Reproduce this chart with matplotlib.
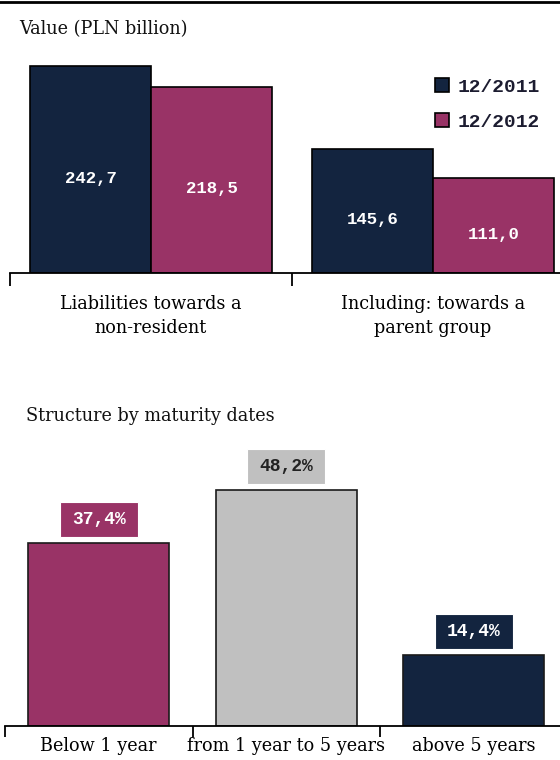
import numpy as np
import matplotlib
matplotlib.use("Agg")
import matplotlib.pyplot as plt
from matplotlib.patches import Rectangle

# data
groups = ["Liabilities towards a\nnon-resident", "Including: towards a\nparent group"]
series_names = ["12/2011", "12/2012"]
values_2011 = [242.7, 145.6]
values_2012 = [218.5, 111.0]

maturity_cats = ["Below 1 year", "from 1 year to 5 years", "above 5 years"]
maturity_share = [37.4, 48.2, 14.4]

NAVY = "#13243f"
PLUM = "#993366"
GREY = "#c0c0c0"
SERIF = "DejaVu Serif"
MONO = "Liberation Mono"

W, H = 560, 760
fig = plt.figure(figsize=(W / 100, H / 100), dpi=100)


def px_box(x0, x1, y_base, y_top):
    # pixel coordinates (from top-left) -> figure fraction
    return [x0 / W, (H - y_base) / H, (x1 - x0) / W, (y_base - y_top) / H]


def fmt(v):
    return f"{v:.1f}".replace(".", ",")


# top rule
fig.add_artist(plt.Line2D([0, 1], [1 - 1.5 / H, 1 - 1.5 / H], color="black", lw=2))

# ---- top chart ----
fig.text(19 / W, 1 - 29 / H, "Value (PLN billion)", family=SERIF, fontsize=12.7,
         va="center", ha="left", color="#111111")

ax1 = fig.add_axes(px_box(10, 574, 273, 60))
x = np.arange(len(groups))
bw = 0.429
b1 = ax1.bar(x - bw / 2, values_2011, bw, color=NAVY, edgecolor="black", lw=1.2,
             label=series_names[0])
b2 = ax1.bar(x + bw / 2, values_2012, bw, color=PLUM, edgecolor="black", lw=1.2,
             label=series_names[1])
for bars, vals in ((b1, values_2011), (b2, values_2012)):
    for r, v in zip(bars, vals):
        ax1.annotate(fmt(v), (r.get_x() + r.get_width() / 2, v / 2),
                     xytext=(0, -9), textcoords="offset pixels",
                     ha="center", va="center", color="white",
                     family=MONO, fontweight="bold", fontsize=12.5)
ax1.set_xlim(-0.5, len(groups) - 0.5)
ax1.set_ylim(0, 250)
ax1.set_xticks(np.arange(len(groups) + 1) - 0.5)
ax1.set_xticklabels([])
ax1.set_xticks(x, minor=True)
ax1.set_xticklabels(groups, minor=True, family=SERIF, fontsize=12.7, linespacing=1.4)
ax1.tick_params(axis="x", which="major", length=9, width=1.3, direction="out")
ax1.tick_params(axis="x", which="minor", length=0, pad=16)
ax1.set_yticks([])
for s in ("left", "right", "top"):
    ax1.spines[s].set_visible(False)
ax1.spines["bottom"].set_linewidth(1.3)

leg = ax1.legend(loc="upper left", bbox_to_anchor=(417 / 564, (273 - 70) / 213),
                 frameon=False, prop={"family": MONO, "weight": "bold", "size": 14},
                 handlelength=0.75, handleheight=0.75, handletextpad=0.45,
                 labelspacing=0.9, borderaxespad=0)
for t in leg.get_texts():
    t.set_color("#1c1c30")
for p in leg.get_patches():
    p.set_linewidth(1.2)

# ---- bottom chart ----
fig.text(26 / W, 1 - 416 / H, "Structure by maturity dates", family=SERIF, fontsize=12.7,
         va="center", ha="left", color="#111111")

ax2 = fig.add_axes(px_box(5, 567.5, 726, 440))
xm = np.arange(len(maturity_cats))
colors = [PLUM, GREY, NAVY]
text_colors = ["white", "#222222", "white"]
bars = ax2.bar(xm, maturity_share, 0.75, color=colors, edgecolor="#1a1a1a", lw=1.2)
ax2.set_xlim(-0.5, len(maturity_cats) - 0.5)
ax2.set_ylim(0, 286 / 4.9)

# label boxes sit a few pixels above each bar
px_per_x = 562.5 / len(maturity_cats)
px_per_y = 4.9
box_w = 78 / px_per_x
box_h = 35 / px_per_y
gap = 6 / px_per_y
for xi, v, c, tc in zip(xm, maturity_share, colors, text_colors):
    ax2.add_patch(Rectangle((xi - box_w / 2, v + gap), box_w, box_h, facecolor=c,
                            edgecolor="white", lw=0.8, clip_on=False))
    ax2.text(xi, v + gap + box_h / 2, fmt(v) + "%", ha="center", va="center",
             color=tc, family=MONO, fontweight="bold", fontsize=13)

ax2.set_xticks(np.arange(len(maturity_cats) + 1) - 0.5)
ax2.set_xticklabels([])
ax2.set_xticks(xm, minor=True)
ax2.set_xticklabels(maturity_cats, minor=True, family=SERIF, fontsize=12.7)
ax2.tick_params(axis="x", which="major", length=8, width=1.3, direction="out")
ax2.tick_params(axis="x", which="minor", length=0, pad=8)
ax2.set_yticks([])
for s in ("left", "right", "top"):
    ax2.spines[s].set_visible(False)
ax2.spines["bottom"].set_linewidth(1.3)

fig.savefig("out.png", dpi=100)
